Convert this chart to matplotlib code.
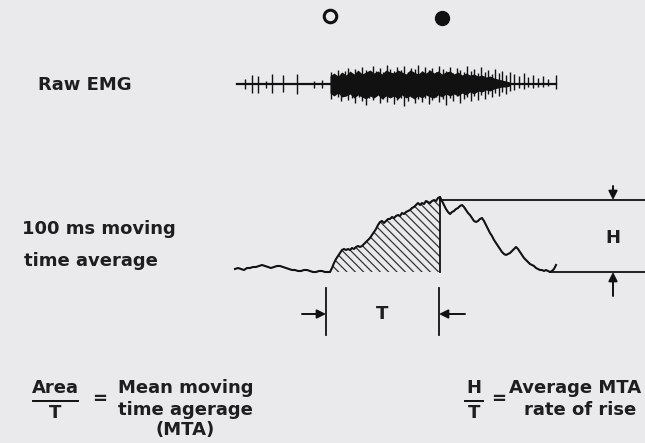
import matplotlib
matplotlib.use('Agg')
import matplotlib.pyplot as plt

# picture units: x = time, y = level (grows downward, like the page)

# raw EMG
emg_start, emg_end, emg_base = 237, 556, 84
band_x = [330, 334, 338, 342, 346, 350, 354, 358, 362, 366, 370, 374, 378, 382, 386, 390,
          394, 398, 402, 406, 410, 414, 418, 422, 426, 430, 434, 438, 442, 446, 450, 454,
          458, 462, 466, 470, 474, 478, 482, 486, 490, 494, 498, 502, 506, 510]
band_up = [8, 11, 8, 12, 9, 13, 10, 14, 10, 12, 14, 11, 13, 10, 14, 12, 11, 14, 12, 10, 14, 12,
           10, 13, 11, 14, 11, 13, 10, 12, 13, 10, 12, 9, 11, 9, 10, 8, 9, 7, 8, 6, 5, 4, 3, 2]
band_dn = [9, 12, 9, 13, 12, 10, 14, 11, 13, 15, 12, 14, 11, 15, 12, 14, 12, 15, 11, 14, 12, 15,
           12, 14, 11, 13, 14, 11, 13, 10, 12, 10, 12, 9, 11, 8, 10, 7, 8, 6, 7, 5, 4, 3, 3, 2]
spike_x = [245, 252, 258, 266, 272, 283, 297, 314, 322,
           331, 334, 338, 341, 345, 348, 352, 355, 359, 362, 366, 369, 373, 376, 380, 383,
           387, 390, 394, 397, 401, 404, 408, 411, 415, 418, 422, 425, 429, 432, 436, 439,
           443, 446, 450, 453, 457, 460, 464, 467, 471, 474, 478, 481, 485, 488, 492, 495,
           499, 502, 506, 510,
           514, 519, 524, 528, 533, 538, 543, 548, 556]
spike_up = [5, 9, 8, 3, 10, 9, 10, 3, 4,
            12, 9, 14, 11, 13, 16, 10, 15, 12, 17, 14, 11, 18, 13, 16, 12,
            19, 15, 13, 17, 14, 18, 12, 16, 15, 19, 13, 17, 14, 16, 12, 18,
            15, 13, 17, 11, 16, 14, 12, 18, 13, 15, 11, 17, 12, 14, 10, 15,
            11, 13, 9, 12,
            10, 8, 11, 7, 9, 6, 8, 5, 9]
spike_dn = [5, 9, 9, 4, 9, 8, 10, 4, 4,
            15, 11, 13, 17, 12, 16, 14, 19, 13, 17, 21, 14, 16, 12, 19, 15,
            18, 13, 20, 16, 14, 22, 17, 13, 19, 15, 18, 14, 20, 16, 13, 18,
            15, 21, 14, 17, 12, 19, 15, 13, 17, 12, 16, 11, 15, 10, 13, 9,
            12, 8, 10, 7,
            6, 4, 5, 3, 4, 3, 3, 2, 5]

# 100 ms moving time average
mta_t = [235, 238, 241, 244, 247, 250, 253, 256, 259, 262, 265, 268, 271, 274, 277, 280,
         283, 286, 289, 292, 295, 298, 301, 304, 307, 310, 313, 316, 319, 322, 325, 328,
         330, 332, 334, 336, 338, 340, 342, 344, 346, 348, 350, 352, 354, 356, 358, 360,
         362, 364, 366, 368, 370, 372, 374, 376, 378, 380, 382, 384, 386, 388, 390, 392,
         394, 396, 398, 400, 402, 404, 406, 408, 410, 412, 414, 416, 418, 420, 422, 424,
         426, 428, 430, 432, 434, 436, 438, 440,
         442, 444, 446, 448, 450, 452, 454, 456, 458, 460, 462, 464, 466, 468, 470, 472,
         474, 476, 478, 480, 482, 484, 486, 488, 490, 492, 494, 496, 498, 500, 502, 504,
         506, 508, 510, 512, 514, 516, 518, 520, 522, 524, 526, 528, 530, 532, 534, 536,
         538, 540, 542, 544, 546, 548, 550, 552, 554, 556]
mta_v = [269, 268, 269, 270, 268, 268, 267, 267, 266, 265, 266, 267, 268, 267, 266, 266,
         267, 268, 269, 270, 270, 271, 271, 270, 270, 271, 272, 272, 271, 271, 272, 272,
         272, 268, 263, 259, 256, 253, 250, 249, 250, 249, 250, 248, 249, 247, 246, 247,
         246, 244, 242, 240, 238, 235, 232, 229, 225, 222, 221, 223, 221, 219, 219, 217,
         218, 216, 215, 216, 213, 214, 212, 211, 210, 208, 207, 205, 203, 205, 203, 204,
         201, 202, 203, 201, 200, 201, 198, 197,
         201, 205, 209, 212, 214, 212, 211, 209, 208, 206, 205, 207, 210, 213, 215, 218,
         221, 222, 221, 219, 218, 221, 225, 229, 233, 236, 240, 243, 246, 249, 252, 254,
         255, 254, 253, 251, 249, 247, 249, 252, 255, 258, 260, 262, 264, 265, 266, 268,
         269, 270, 270, 271, 270, 271, 272, 271, 269, 265]
onset_t, peak_t = 330, 440

fig = plt.figure(figsize=(6.45, 4.43), dpi=100)
fig.patch.set_facecolor('#eaeaed')
ax = fig.add_axes([0, 0, 1, 1])
ax.set_xlim(0, 645)
ax.set_ylim(443, 0)
ax.axis('off')

font = dict(family='DejaVu Sans', fontweight='bold', fontsize=13, color='#1e1e1e')
ink = '#111111'

# --- raw EMG ---
ax.plot([emg_start, emg_end], [emg_base, emg_base], color=ink, lw=1.6)
ax.fill_between(band_x, [emg_base - u for u in band_up], [emg_base + d for d in band_dn],
                color=ink, lw=0)
ax.vlines(spike_x, [emg_base - u for u in spike_up], [emg_base + d for d in spike_dn],
          color=ink, lw=1.0)
ax.plot(onset_t, 16, 'o', ms=9, mfc='none', mec=ink, mew=2.2)
ax.plot(peak_t + 2, 18, 'o', ms=10, mfc=ink, mec=ink)
ax.text(38, 85, 'Raw EMG', va='center', ha='left', **font)

# --- moving time average ---
i0 = mta_t.index(onset_t)
i1 = mta_t.index(peak_t)
base_v = mta_v[i0]
peak_v = mta_v[i1]
plt.rcParams['hatch.linewidth'] = 0.9
ax.fill_between(mta_t[i0:i1 + 1], mta_v[i0:i1 + 1], base_v, facecolor='none',
                edgecolor='#333333', hatch='\\\\\\\\', lw=0)
ax.plot(mta_t, mta_v, color=ink, lw=1.5)
ax.plot([peak_t, peak_t], [peak_v, base_v], color=ink, lw=1.3)

# H markers
end_v = mta_v[-1] + 7
ax.plot([peak_t, 645], [peak_v + 3, peak_v + 3], color=ink, lw=1.3)
ax.plot([mta_t[-4], 645], [end_v, end_v], color=ink, lw=1.3)
arr = dict(arrowstyle='-|>', color=ink, lw=1.4, mutation_scale=13, shrinkA=0, shrinkB=0)
ax.annotate('', xy=(613, peak_v + 3), xytext=(613, 186), arrowprops=arr)
ax.annotate('', xy=(613, end_v), xytext=(613, 296), arrowprops=arr)
ax.text(613, 238, 'H', ha='center', va='center', **font)

# T markers
ax.plot([onset_t - 4, onset_t - 4], [288, 335], color=ink, lw=1.3)
ax.plot([peak_t - 1, peak_t - 1], [288, 335], color=ink, lw=1.3)
ax.annotate('', xy=(onset_t - 4, 314), xytext=(302, 314), arrowprops=arr)
ax.annotate('', xy=(peak_t - 1, 314), xytext=(465, 314), arrowprops=arr)
ax.text(382, 314, 'T', ha='center', va='center', **font)

ax.text(22, 229, '100 ms moving', va='center', ha='left', **font)
ax.text(24, 261, 'time average', va='center', ha='left', **font)

# --- formulas ---
ax.text(55, 388, 'Area', ha='center', va='center', **font)
ax.plot([33, 78], [401, 401], color=ink, lw=1.4)
ax.text(55, 413, 'T', ha='center', va='center', **font)
ax.text(100, 399, '=', ha='center', va='center', **font)
ax.text(118, 388, 'Mean moving', ha='left', va='center', **font)
ax.text(118, 410, 'time agerage', ha='left', va='center', **font)
ax.text(185, 430, '(MTA)', ha='center', va='center', **font)

ax.text(474, 388, 'H', ha='center', va='center', **font)
ax.plot([465, 483], [401, 401], color=ink, lw=1.4)
ax.text(474, 413, 'T', ha='center', va='center', **font)
ax.text(499, 399, '=', ha='center', va='center', **font)
ax.text(575, 388, 'Average MTA', ha='center', va='center', **font)
ax.text(580, 410, 'rate of rise', ha='center', va='center', **font)

fig.savefig('out.png', dpi=100, facecolor=fig.get_facecolor())
